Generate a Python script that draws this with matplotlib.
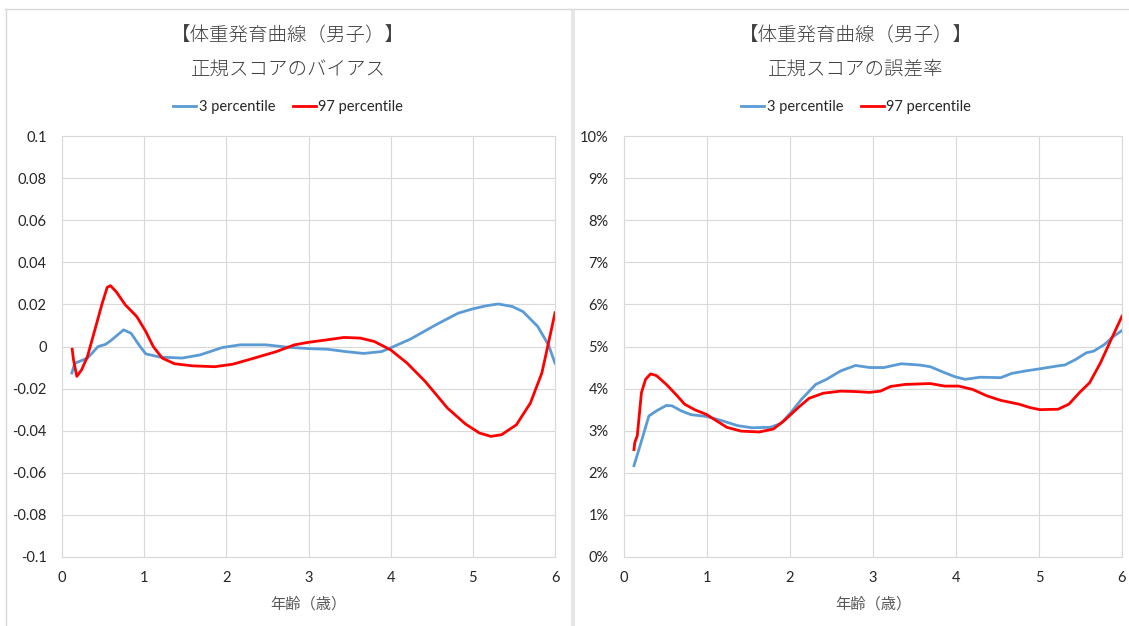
import matplotlib
matplotlib.use("Agg")
import matplotlib.pyplot as plt
from matplotlib.lines import Line2D
from matplotlib.patches import Rectangle
from matplotlib.ticker import FuncFormatter, MultipleLocator

plt.rcParams["font.family"] = ["Lato", "Noto Sans CJK JP", "DejaVu Sans"]
jp_font = ["Noto Sans CJK JP", "DejaVu Sans"]

# --- left chart: bias of the normal score ---
bias_p3_age = [0.12, 0.155, 0.31, 0.44, 0.53, 0.6, 0.75, 0.84, 0.95, 1.02, 1.19, 1.46,
               1.68, 1.95, 2.17, 2.48, 2.74, 3.0, 3.23, 3.45, 3.67, 3.89, 4.02, 4.24,
               4.55, 4.82, 5.0, 5.17, 5.31, 5.48, 5.61, 5.79, 5.92, 6.0]
bias_p3 = [-0.0126, -0.008, -0.0055, 0.0, 0.001, 0.003, 0.0079, 0.0063, 0.0, -0.0035,
           -0.005, -0.0055, -0.004, -0.0005, 0.0008, 0.0008, -0.0003, -0.001, -0.0013,
           -0.0024, -0.0033, -0.0024, -0.0003, 0.0035, 0.0103, 0.0158, 0.0179, 0.0194,
           0.0202, 0.019, 0.0166, 0.0095, 0.0008, -0.0079]

bias_p97_age = [0.124, 0.14, 0.18, 0.24, 0.31, 0.40, 0.49, 0.55, 0.59, 0.66, 0.77, 0.91,
                1.02, 1.11, 1.22, 1.37, 1.59, 1.86, 2.08, 2.34, 2.61, 2.83, 3.0, 3.23,
                3.43, 3.63, 3.8, 4.0, 4.2, 4.42, 4.69, 4.91, 5.08, 5.22, 5.35, 5.53,
                5.7, 5.84, 5.92, 6.0]
bias_p97 = [-0.0013, -0.0063, -0.0142, -0.011, -0.0047, 0.0079, 0.0206, 0.0281, 0.0289,
            0.026, 0.0198, 0.0142, 0.0071, 0.0, -0.0055, -0.0082, -0.0092, -0.0096,
            -0.0084, -0.0055, -0.0024, 0.0008, 0.002, 0.0032, 0.0043, 0.004, 0.0024,
            -0.0016, -0.0079, -0.0166, -0.0292, -0.0368, -0.0411, -0.0427, -0.0419,
            -0.0372, -0.0269, -0.0126, 0.0016, 0.016]

# --- right chart: error rate of the normal score (%) ---
err_p3_age = [0.12, 0.19, 0.3, 0.39, 0.51, 0.58, 0.69, 0.81, 0.99, 1.16, 1.37, 1.54,
              1.76, 1.89, 2.01, 2.14, 2.31, 2.44, 2.61, 2.79, 2.96, 3.13, 3.34, 3.56,
              3.69, 3.86, 3.99, 4.11, 4.29, 4.54, 4.67, 4.84, 5.01, 5.23, 5.31, 5.44,
              5.57, 5.66, 5.79, 5.89, 6.0]
err_p3 = [2.17, 2.62, 3.35, 3.47, 3.6, 3.59, 3.47, 3.38, 3.34, 3.25, 3.12, 3.07, 3.08,
          3.17, 3.43, 3.75, 4.1, 4.22, 4.42, 4.55, 4.5, 4.5, 4.59, 4.56, 4.52, 4.38,
          4.28, 4.22, 4.27, 4.26, 4.36, 4.42, 4.47, 4.54, 4.56, 4.69, 4.85, 4.89, 5.05,
          5.23, 5.38]

err_p97_age = [0.12, 0.13, 0.16, 0.21, 0.26, 0.32, 0.39, 0.51, 0.64, 0.73, 0.86, 0.99,
               1.11, 1.24, 1.41, 1.63, 1.8, 1.93, 2.1, 2.23, 2.4, 2.61, 2.79, 2.96,
               3.09, 3.21, 3.39, 3.69, 3.86, 4.03, 4.2, 4.37, 4.54, 4.76, 4.89, 5.01,
               5.23, 5.36, 5.49, 5.61, 5.74, 5.87, 6.0]
err_p97 = [2.55, 2.72, 2.88, 3.9, 4.22, 4.35, 4.31, 4.1, 3.83, 3.63, 3.49, 3.39, 3.24,
           3.08, 2.99, 2.97, 3.04, 3.24, 3.55, 3.77, 3.89, 3.94, 3.93, 3.91, 3.94, 4.05,
           4.1, 4.12, 4.06, 4.06, 3.98, 3.83, 3.72, 3.63, 3.55, 3.5, 3.51, 3.63, 3.91,
           4.14, 4.61, 5.17, 5.72]

title_main = "【体重発育曲線（男子）】"
title_left = "正規スコアのバイアス"
title_right = "正規スコアの誤差率"
x_label = "年齢（歳）"
series_names = ["3 percentile", "97 percentile"]

blue = "#5B9BD5"
red = "#FF0000"
grid_col = "#D9D9D9"
W, H = 1129, 626

fig = plt.figure(figsize=(W / 100, H / 100), dpi=100)

# chart frames like the spreadsheet
border = "#D9D9D9"
fig.add_artist(Line2D([5 / W, 1], [1 - 9 / H] * 2, color=border, lw=1.0))
fig.add_artist(Line2D([6 / W] * 2, [0, 1 - 9 / H], color=border, lw=1.0))
fig.add_artist(Rectangle((571 / W, 0), 4 / W, 1 - 9 / H, color="#E6E6E6", lw=0))


def style_axes(ax):
    ax.set_xlim(0, 6)
    ax.xaxis.set_major_locator(MultipleLocator(1))
    ax.grid(True, color=grid_col, lw=0.8)
    ax.set_axisbelow(True)
    for s in ax.spines.values():
        s.set_color(grid_col)
        s.set_linewidth(0.8)
    ax.tick_params(length=0, labelsize=10.5, labelcolor="#262626")
    ax.tick_params(axis="x", pad=10)
    ax.tick_params(axis="y", pad=11)
    ax.set_xlabel(x_label, family=jp_font, fontsize=11, color="#595959", labelpad=8)


def add_titles(xc, sub):
    fig.text(xc, 1 - 36 / H, title_main, ha="center", va="center",
             family=jp_font, fontsize=14, color="#404040", fontweight="light")
    fig.text(xc, 1 - 69 / H, sub, ha="center", va="center",
             family=jp_font, fontsize=14, color="#404040", fontweight="light")
    handles = [Line2D([], [], color=blue, lw=2.0), Line2D([], [], color=red, lw=2.0)]
    fig.legend(handles, series_names, loc="center", bbox_to_anchor=(xc, 1 - 107 / H),
               ncol=2, frameon=False, fontsize=10.5, handlelength=1.6,
               handletextpad=0.15, columnspacing=1.2, labelcolor="#262626")


# left
ax1 = fig.add_axes([62 / W, 1 - 557 / H, 493 / W, 421 / H])
ax1.plot(bias_p3_age, bias_p3, color=blue, lw=2.0)
ax1.plot(bias_p97_age, bias_p97, color=red, lw=2.0)
ax1.set_ylim(-0.1, 0.1)
ax1.yaxis.set_major_locator(MultipleLocator(0.02))
ax1.yaxis.set_major_formatter(FuncFormatter(lambda v, p: "0" if abs(v) < 1e-9 else f"{v:g}"))
style_axes(ax1)
add_titles(288 / W, title_left)

# right
ax2 = fig.add_axes([624 / W, 1 - 557 / H, 498 / W, 421 / H])
ax2.plot(err_p3_age, err_p3, color=blue, lw=2.0)
ax2.plot(err_p97_age, err_p97, color=red, lw=2.0)
ax2.set_ylim(0, 10)
ax2.yaxis.set_major_locator(MultipleLocator(1))
ax2.yaxis.set_major_formatter(FuncFormatter(lambda v, p: f"{v:.0f}%"))
style_axes(ax2)
add_titles(856 / W, title_right)

fig.savefig("out.png", dpi=100)
